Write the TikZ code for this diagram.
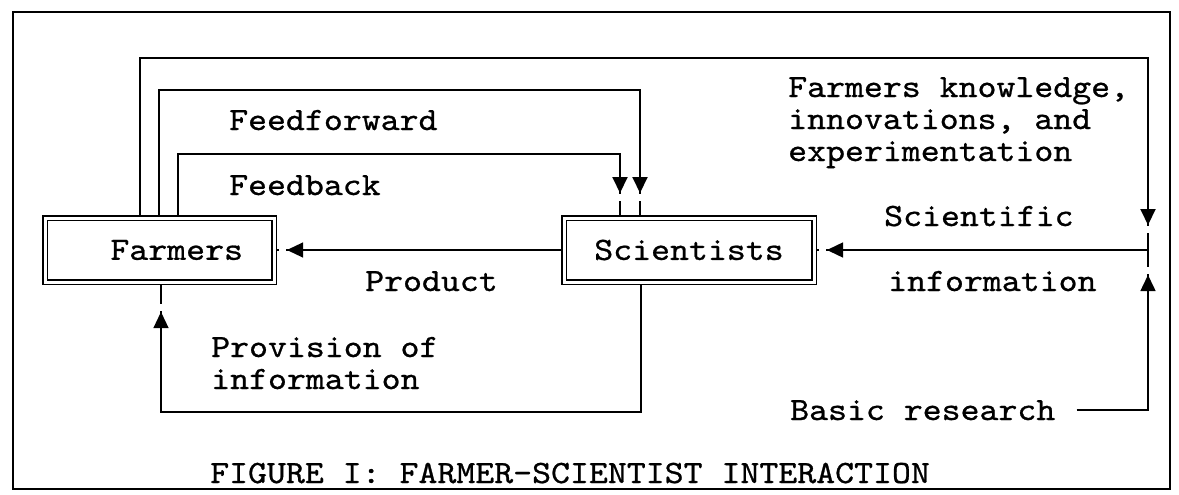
\documentclass[tikz,border=0pt]{standalone}
\usepackage{fontspec}
\usetikzlibrary{arrows.meta,decorations.markings}

\newfontfamily\typefont{lmmono10-regular}[Extension=.otf,FakeStretch=1.11,FakeBold=0.8]
\newcommand*{\labelfont}{\typefont\fontsize{32.5}{32}\selectfont}

\begin{document}
\begin{tikzpicture}
[
	x=1pt,
	y=-1pt,
	box/.style={draw,double,line width=1.5pt,double distance=3pt,outer sep=3pt,inner sep=0pt,minimum height=64pt,font=\labelfont},
	lbl/.style={anchor=base west,inner sep=0pt,align=left,font=\labelfont},
	thinlink/.style={line width=1.2pt},
	looplink/.style={line width=2pt},
	% arrow head #1 before the end, with a small break in front of its tip
	tipat/.style={postaction={decorate},decoration={markings,mark=at position -#1 with {\arrow{Triangle[width=15pt,length=16pt]}\fill[white] (1pt,-2pt) rectangle (8pt,2pt);}}}
]

	\useasboundingbox (0,0) rectangle (1179,495);

	% frame
	\draw[line width=2.5pt] (13,12) rectangle (1170,489);

	% the two actors
	\node[box,minimum width=229pt,text width=167pt,align=right] at (159.5,250) (farm) {Farmers};
	\node[box,minimum width=250pt] at (689,250) (sci) {Scientists};
	\coordinate (junc) at (1148,250);

	% labels (multi-line ones sit on their last line)
	\node[lbl] at (229,130) (ffwd) {Feedforward};
	\node[lbl] at (229,195) (fback) {Feedback};
	\node[lbl] at (788,161) (know) {Farmers knowledge,\\innovations, and\\experimentation};
	\node[lbl] at (884,226) (scitop) {Scientific};
	\node[lbl] at (888,291) (scibot) {information};
	\node[lbl] at (365,291) (prod) {Product};
	\node[lbl] at (211,389) (prov) {Provision of\\information};
	\node[lbl] at (790,420) (basic) {Basic research};
	\node[lbl] at (210,483) (caption) {FIGURE I: FARMER-SCIENTIST INTERACTION};

	% loops from the farmers
	\draw[looplink,tipat=25pt] ([xshift=98pt]farm.north west) -- ++(0,-157) -| (junc);
	\draw[looplink,tipat=22pt] ([xshift=117pt]farm.north west) -- ++(0,-125) -| ([xshift=79pt]sci.north west);
	\draw[looplink,tipat=22pt] ([xshift=136pt]farm.north west) -- ++(0,-61) -| ([xshift=59pt]sci.north west);

	% flows to the left
	\draw[thinlink,tipat=10pt] (sci.west) -- (farm.east);
	\draw[line width=1.5pt,tipat=10pt] (junc) -- (sci.east);
	\draw[line width=1.5pt,tipat=25pt] ([xshift=21pt]basic.east) -| (junc);
	\draw[thinlink,tipat=27pt] ([xshift=80pt]sci.south west) -- ++(0,127) -| ([xshift=119pt]farm.south west);

\end{tikzpicture}
\end{document}
